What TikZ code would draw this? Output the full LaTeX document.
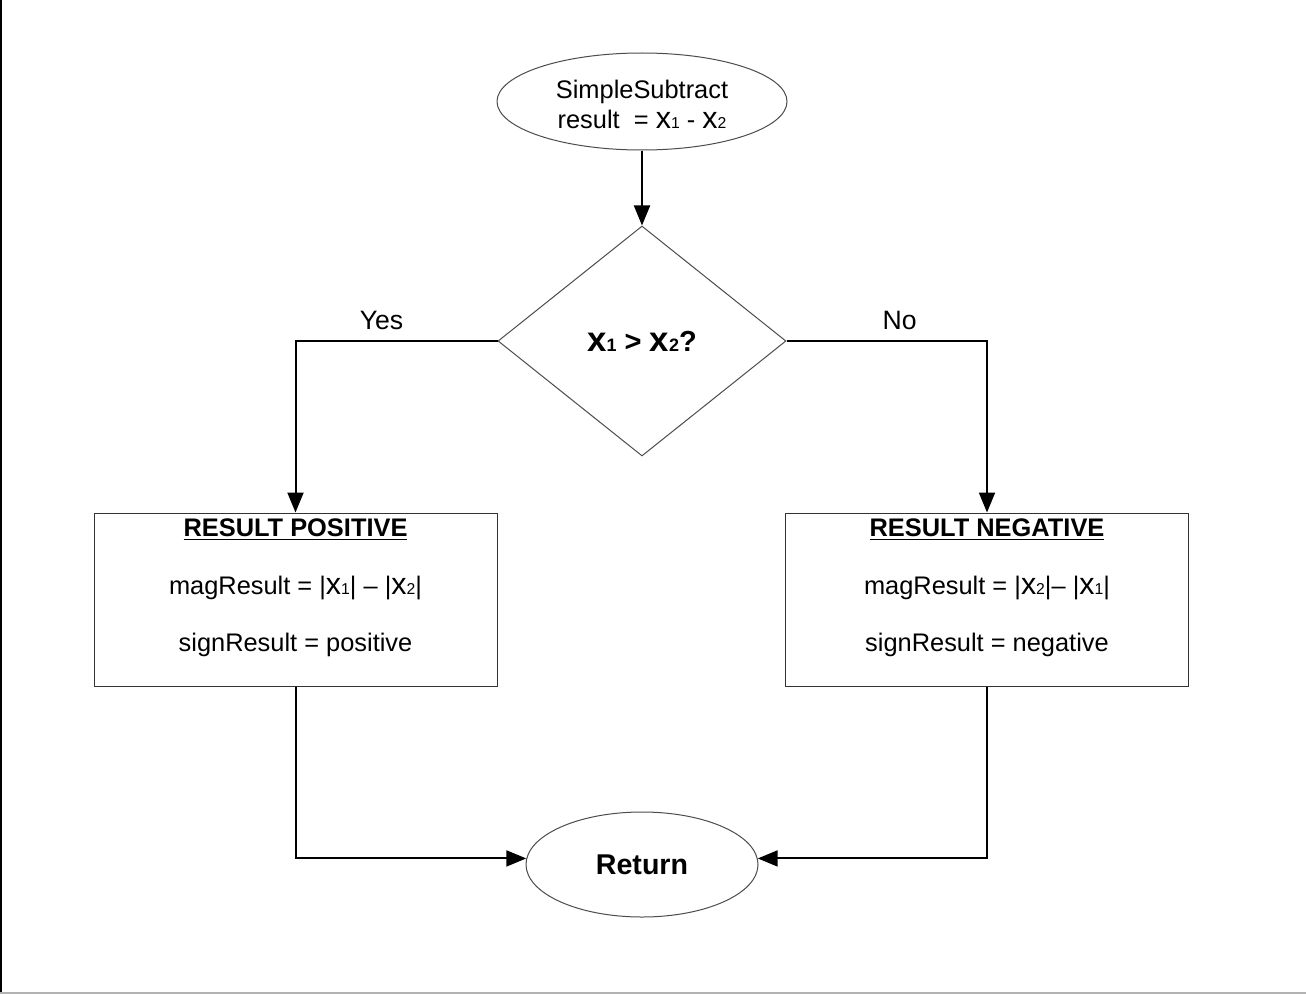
\documentclass[tikz,border=0pt]{standalone}
\usepackage{fontspec}
\setmainfont{Liberation Sans}
\usetikzlibrary{shapes.geometric,arrows.meta}
% variable x with a small digit sitting on the baseline
\newcommand\xsb[1]{\scalebox{1.2}{x}\scalebox{0.62}{#1}}

\begin{document}
\begin{tikzpicture}[x=0.5pt,y=-0.5pt,
  outline/.style={draw=black!70, line width=0.5pt, fill=white},
  terminal/.style={outline, ellipse, inner sep=0pt, align=center},
  decision/.style={outline, diamond, inner sep=0pt, minimum width=144pt, minimum height=115pt},
  procbox/.style={draw=black!80, line width=0.5pt, minimum width=201.5pt, minimum height=86.5pt, inner sep=0pt},
  boxtext/.style={align=center, inner sep=0pt, font=\fontsize{12.7}{28.75}\selectfont},
  flow/.style={line width=1pt, -{Triangle[length=10pt,width=8pt]}},
  branch/.style={inner sep=0pt, font=\fontsize{13.3}{16}\selectfont}
]
\useasboundingbox (0,0) rectangle (1306,995);
\fill[white] (0,0) rectangle (1306,995);
% page frame
\draw[black, line width=1pt] (1,0) -- (1,993);
\draw[black!30, line width=1pt] (0,993) -- (1306,993);

% nodes
\node[terminal, minimum width=145pt, minimum height=48.5pt,
      font=\fontsize{12.7}{15}\selectfont] (start) at (642,101.5)
  {\rule{0pt}{12pt}SimpleSubtract\\result\ \ = \xsb1 - \xsb2};
\node[decision, font=\bfseries\fontsize{14.5}{17}\selectfont] (test) at (642,341)
  {\xsb1 > \xsb2?};

\node[procbox] (pos) at (295.5,599.5) {};
\node[boxtext] (posText) at (295.5,588)
  {\underline{\textbf{RESULT POSITIVE}}\\magResult = |\xsb1| – |\xsb2|\\signResult = positive};

\node[procbox] (neg) at (987,599.5) {};
\node[boxtext] (negText) at (987,588)
  {\underline{\textbf{RESULT NEGATIVE}}\\magResult = |\xsb2|– |\xsb1|\\signResult = negative};

\node[terminal, minimum width=116pt, minimum height=52.5pt,
      font=\bfseries\fontsize{14.3}{17}\selectfont] (ret) at (642,864.5) {Return};

% connectors
\draw[flow] (start) -- (test);
\draw[flow] (test.west) -| node[branch, pos=0.287, above=5pt] (yes) {Yes} (pos.north);
\draw[flow] (test.east) -| node[branch, pos=0.282, above=5pt] (no) {No} (neg.north);
\draw[flow] (pos.south) |- (ret.177);
\draw[flow] (neg.south) |- (ret.3);
\end{tikzpicture}
\end{document}
